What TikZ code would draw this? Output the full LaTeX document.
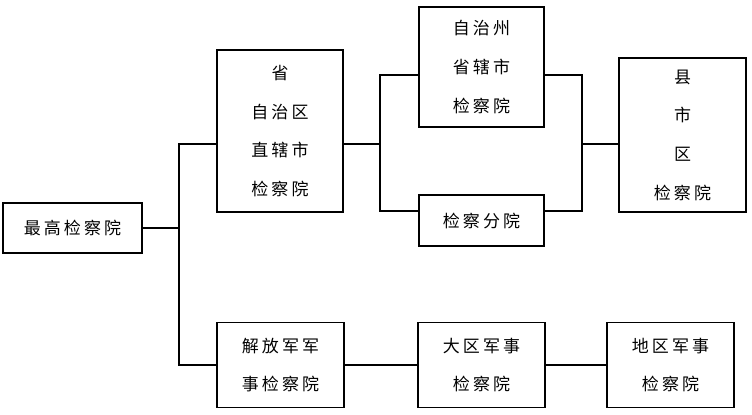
\documentclass[tikz,border=0pt]{standalone}
\usepackage{fontspec}
\usepackage{tikz}
\usetikzlibrary{positioning,calc}
\newfontfamily\cjkfont[LetterSpace=18]{Noto Sans CJK SC}
\tikzset{
  % box of one procuratorate
  orgbox/.style={rectangle, draw=black, line width=1.6pt, fill=white, align=center,
                 inner sep=0pt, font=\cjkfont\fontsize{14.5}{33}\selectfont},
  % connecting line
  link/.style={line width=1.6pt, line join=miter},
}
\begin{document}
\begin{tikzpicture}[x=0.03cm, y=-0.03cm]
  \useasboundingbox (0,0) rectangle (752,414);
  % boxes
  \node[orgbox, minimum width=4.17cm, minimum height=1.5cm] (spp) at (72.5,228) {最高检察院};
  \node[orgbox, minimum width=3.78cm, minimum height=4.86cm] (prov) at (280,131)
    {省\\自治区\\直辖市\\检察院};
  \node[orgbox, minimum width=3.75cm, minimum height=3.6cm] (pref) at (481.5,67)
    {自治州\\省辖市\\检察院};
  \node[orgbox, minimum width=3.75cm, minimum height=1.53cm] (branch) at (481.5,220.5) {检察分院};
  \node[orgbox, minimum width=3.81cm, minimum height=4.62cm] (county) at (682.5,135)
    {县\\市\\区\\检察院};
  \node[orgbox, minimum width=3.81cm, minimum height=2.55cm] (pla) at (280.5,365)
    {解放军军\\事检察院};
  \node[orgbox, minimum width=3.81cm, minimum height=2.55cm] (region) at (481.5,365)
    {大区军事\\检察院};
  \node[orgbox, minimum width=3.81cm, minimum height=2.55cm] (district) at (670.5,365)
    {地区军事\\检察院};
  % junction points
  \coordinate (ttop) at (179,144);
  \coordinate (tbot) at (179,365);
  \coordinate (ltop) at (380,75);
  \coordinate (lbot) at (380,211);
  \coordinate (rtop) at (582,75);
  \coordinate (rbot) at (582,211);
  % lines
  \draw[link] (spp.east) -- (spp.east -| ttop);
  \draw[link] (prov.west |- ttop) -- (ttop) -- (tbot) -- (pla.west);
  \draw[link] (prov.east |- ttop) -- (ttop -| ltop);
  \draw[link] (pref.west |- ltop) -- (ltop) -- (lbot) -- (branch.west |- lbot);
  \draw[link] (pref.east |- rtop) -- (rtop) -- (rbot) -- (branch.east |- rbot);
  \draw[link] (ttop -| rtop) -- (county.west |- ttop);
  \draw[link] (pla) -- (region);
  \draw[link] (region) -- (district);
\end{tikzpicture}
\end{document}
